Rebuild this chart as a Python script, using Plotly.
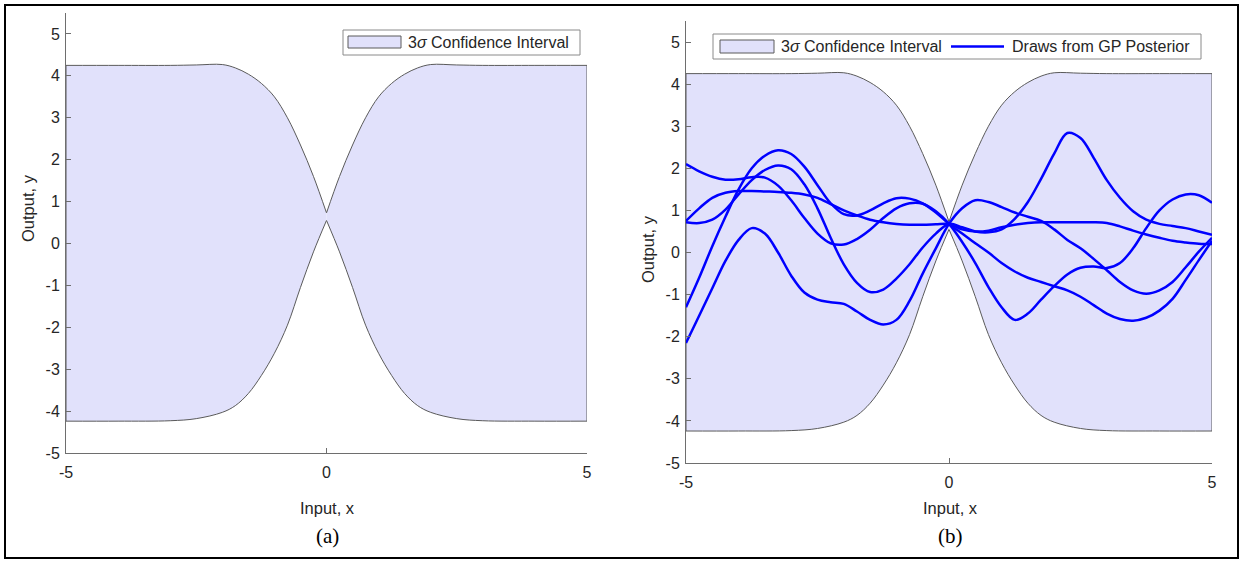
import plotly.graph_objects as go

W, H = 1243, 564

# ---- posterior envelope (mean +/- 3 sigma), read at these inputs ----
band_x = [-5, -4, -3, -2.5, -2, -1.75, -1.5, -1.25, -1, -0.75, -0.5, -0.25, 0,
          0.25, 0.5, 0.75, 1, 1.25, 1.5, 1.75, 2, 2.5, 3, 4, 5]
band_upper = [4.25, 4.25, 4.25, 4.26, 4.27, 4.19, 4.04, 3.82, 3.50, 3.00, 2.35, 1.60, 0.73,
              1.60, 2.35, 3.00, 3.50, 3.82, 4.04, 4.19, 4.27, 4.26, 4.25, 4.25, 4.25]
band_lower = [-4.24, -4.24, -4.23, -4.18, -4.03, -3.87, -3.58, -3.15, -2.62, -1.95, -1.05, -0.20, 0.55,
              -0.20, -1.05, -1.95, -2.62, -3.15, -3.58, -3.87, -4.03, -4.18, -4.23, -4.24, -4.24]

# ---- five posterior draws, sampled on a common input grid ----
draw_x = [-5, -4.75, -4.5, -4.25, -4, -3.75, -3.5, -3.25, -3, -2.75, -2.5, -2.25, -2,
          -1.75, -1.5, -1.25, -1, -0.75, -0.5, -0.25, 0, 0.25, 0.5, 0.75, 1, 1.25,
          1.5, 1.75, 2, 2.25, 2.5, 2.75, 3, 3.25, 3.5, 3.75, 4, 4.25, 4.5, 4.75, 5]
draw_1 = [2.10, 1.93, 1.80, 1.73, 1.74, 1.79, 1.78, 1.59, 1.24, 0.82, 0.45, 0.22, 0.19,
          0.32, 0.54, 0.82, 1.05, 1.17, 1.16, 0.98, 0.68, 0.25, -0.25, -0.82, -1.30, -1.60,
          -1.45, -1.12, -0.80, -0.52, -0.36, -0.33, -0.37, -0.25, 0.10, 0.58, 1.00, 1.26, 1.38, 1.36, 1.18]
draw_2 = [-1.30, -0.60, 0.15, 0.85, 1.50, 2.00, 2.30, 2.43, 2.34, 2.04, 1.60, 1.17, 0.91,
          0.88, 1.00, 1.17, 1.29, 1.28, 1.17, 0.95, 0.68, 0.45, 0.22, 0.00, -0.25, -0.45,
          -0.60, -0.70, -0.80, -0.90, -1.05, -1.25, -1.45, -1.58, -1.62, -1.55, -1.38, -1.10, -0.65, -0.18, 0.28]
draw_3 = [0.72, 0.70, 0.78, 1.02, 1.38, 1.72, 1.96, 2.07, 1.98, 1.62, 1.05, 0.35, -0.28,
          -0.72, -0.94, -0.88, -0.62, -0.28, 0.12, 0.45, 0.68, 0.60, 0.50, 0.48, 0.55, 0.80,
          1.20, 1.75, 2.35, 2.84, 2.72, 2.25, 1.72, 1.30, 0.98, 0.78, 0.68, 0.63, 0.58, 0.50, 0.42]
draw_4 = [0.75, 1.05, 1.30, 1.42, 1.46, 1.46, 1.45, 1.44, 1.42, 1.38, 1.30, 1.15, 1.00,
          0.88, 0.78, 0.72, 0.68, 0.66, 0.66, 0.67, 0.68, 0.55, 0.50, 0.52, 0.60, 0.66,
          0.70, 0.72, 0.72, 0.72, 0.72, 0.72, 0.70, 0.62, 0.52, 0.43, 0.35, 0.28, 0.24, 0.21, 0.20]
draw_5 = [-2.15, -1.50, -0.85, -0.20, 0.30, 0.58, 0.45, 0.00, -0.55, -0.95, -1.12, -1.18, -1.22,
          -1.40, -1.60, -1.71, -1.60, -1.15, -0.50, 0.10, 0.68, 1.05, 1.24, 1.20, 1.08, 0.95,
          0.85, 0.75, 0.55, 0.30, 0.10, -0.15, -0.42, -0.70, -0.90, -0.98, -0.90, -0.70, -0.35, 0.02, 0.35]
draws = [draw_1, draw_2, draw_3, draw_4, draw_5]

x_ticks = [-5, 0, 5]
y_ticks = [-5, -4, -3, -2, -1, 0, 1, 2, 3, 4, 5]

FILL = "#E1E1FB"
EDGE = "#5a5a5a"
AXIS = "#6e6e6e"
TEXT = "#262626"
BLUE = "#0000FF"
FONT = "Liberation Sans"


def px(x):
    return x / W


def py(y):
    return 1 - y / H


fig = go.Figure()


def add_band(xa, ya):
    mid = band_x.index(0)
    halves = [(0, mid + 1), (mid, len(band_x))]
    for a, b in halves:
        xs = band_x[a:b]
        fig.add_trace(go.Scatter(x=xs, y=band_lower[a:b], mode="lines",
                                 line=dict(color=EDGE, width=1, shape="spline"),
                                 xaxis=xa, yaxis=ya, showlegend=False, hoverinfo="skip"))
        fig.add_trace(go.Scatter(x=xs, y=band_upper[a:b], mode="lines",
                                 line=dict(color=EDGE, width=1, shape="spline"),
                                 fill="tonexty", fillcolor=FILL,
                                 xaxis=xa, yaxis=ya, showlegend=False, hoverinfo="skip"))
    # patch edges at both ends of the input range
    for i in (0, -1):
        fig.add_trace(go.Scatter(x=[band_x[i], band_x[i]], y=[band_lower[i], band_upper[i]],
                                 mode="lines", line=dict(color=EDGE, width=1),
                                 xaxis=xa, yaxis=ya, showlegend=False, hoverinfo="skip"))


add_band("x", "y")
add_band("x2", "y2")

for d in draws:
    fig.add_trace(go.Scatter(x=draw_x, y=d, mode="lines",
                             line=dict(color=BLUE, width=2.5, shape="spline"),
                             xaxis="x2", yaxis="y2", showlegend=False, hoverinfo="skip"))

axis_common = dict(showline=True, linecolor=AXIS, linewidth=1, ticks="inside", ticklen=5,
                   tickcolor=AXIS, showgrid=False, zeroline=False, automargin=False,
                   tickfont=dict(family=FONT, size=16, color=TEXT))

xa = dict(axis_common, range=[-5, 5], tickvals=x_ticks, ticktext=[str(v) for v in x_ticks],
          ticklabelstandoff=5)
ya = dict(axis_common, range=[-5, 5.5], tickvals=y_ticks, ticktext=[str(v) for v in y_ticks],
          ticklabelstandoff=2)

fig.update_layout(
    width=W, height=H,
    margin=dict(l=0, r=0, t=0, b=0),
    paper_bgcolor="white", plot_bgcolor="white",
    showlegend=False,
    xaxis=dict(xa, domain=[px(66), px(587)], anchor="y"),
    yaxis=dict(ya, domain=[py(453), py(13)], anchor="x"),
    xaxis2=dict(xa, domain=[px(686), px(1212)], anchor="y2"),
    yaxis2=dict(ya, domain=[py(463), py(21)], anchor="x2"),
)

shapes = []
annotations = []

# outer frame
shapes.append(dict(type="rect", xref="paper", yref="paper", x0=px(5), x1=px(1238),
                   y0=py(558), y1=py(5), line=dict(color="black", width=2)))

title_font = dict(family=FONT, size=16.5, color=TEXT)

# axis titles
for cx in (327, 950):
    annotations.append(dict(text="Input, x", xref="paper", yref="paper", x=px(cx), y=py(508),
                            showarrow=False, xanchor="center", yanchor="middle", font=title_font))
for cx, cy in ((28, 208), (648, 249)):
    annotations.append(dict(text="Output, y", xref="paper", yref="paper", x=px(cx), y=py(cy),
                            showarrow=False, xanchor="center", yanchor="middle", textangle=-90,
                            font=title_font))

# panel captions
for label, cx in (("(a)", 327), ("(b)", 950)):
    annotations.append(dict(text=label, xref="paper", yref="paper", x=px(cx), y=py(536),
                            showarrow=False, xanchor="center", yanchor="middle",
                            font=dict(family="Liberation Serif", size=21, color="black")))

ci_text = "3<i>σ</i> Confidence Interval"
leg_font = dict(family=FONT, size=16, color=TEXT)


def legend_box(x0, x1, y0, y1):
    shapes.append(dict(type="rect", xref="paper", yref="paper", x0=px(x0), x1=px(x1),
                       y0=py(y1), y1=py(y0), fillcolor="white",
                       line=dict(color="#8a8a8a", width=1)))


def swatch(x0, x1, y0, y1):
    shapes.append(dict(type="rect", xref="paper", yref="paper", x0=px(x0), x1=px(x1),
                       y0=py(y1), y1=py(y0), fillcolor=FILL,
                       line=dict(color=EDGE, width=1)))


def legend_text(t, x, y):
    annotations.append(dict(text=t, xref="paper", yref="paper", x=px(x), y=py(y),
                            showarrow=False, xanchor="left", yanchor="middle", font=leg_font))


# legend of panel (a)
legend_box(343, 580, 30, 55)
swatch(348, 401, 36, 48)
legend_text(ci_text, 406, 42.5)

# legend of panel (b)
legend_box(713, 1201, 34, 59)
swatch(720, 774, 40, 53)
legend_text(ci_text, 779, 46.5)
shapes.append(dict(type="line", xref="paper", yref="paper", x0=px(951), x1=px(1004),
                   y0=py(46.5), y1=py(46.5), line=dict(color=BLUE, width=2.5)))
legend_text("Draws from GP Posterior", 1010, 46.5)

fig.update_layout(shapes=shapes, annotations=annotations)
fig.write_html("out.html")
